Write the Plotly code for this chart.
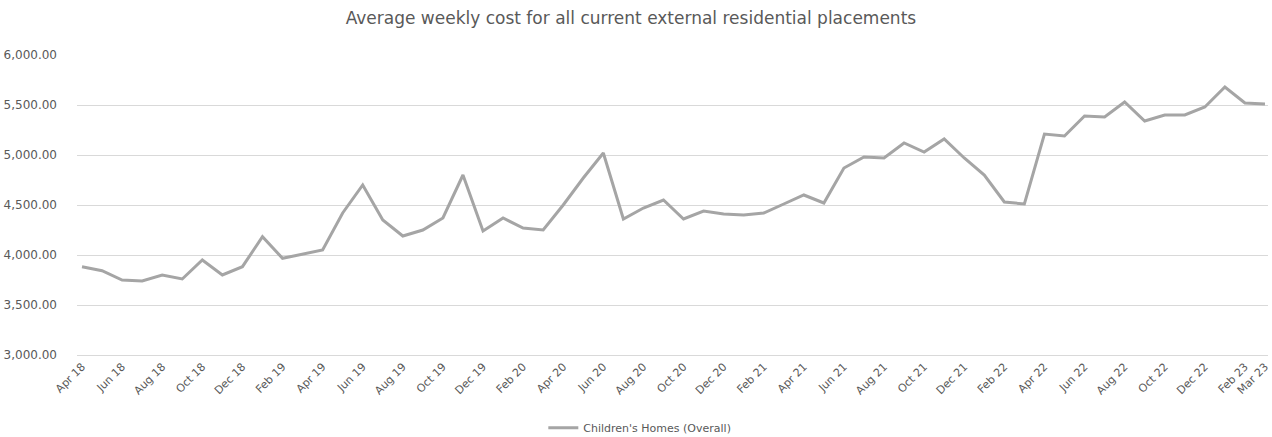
import plotly.graph_objects as go

months = ["Apr 18","May 18","Jun 18","Jul 18","Aug 18","Sep 18","Oct 18","Nov 18","Dec 18","Jan 19","Feb 19","Mar 19",
          "Apr 19","May 19","Jun 19","Jul 19","Aug 19","Sep 19","Oct 19","Nov 19","Dec 19","Jan 20","Feb 20","Mar 20",
          "Apr 20","May 20","Jun 20","Jul 20","Aug 20","Sep 20","Oct 20","Nov 20","Dec 20","Jan 21","Feb 21","Mar 21",
          "Apr 21","May 21","Jun 21","Jul 21","Aug 21","Sep 21","Oct 21","Nov 21","Dec 21","Jan 22","Feb 22","Mar 22",
          "Apr 22","May 22","Jun 22","Jul 22","Aug 22","Sep 22","Oct 22","Nov 22","Dec 22","Jan 23","Feb 23","Mar 23"]

avg_cost = [3883, 3843, 3750, 3740, 3800, 3760, 3950, 3800, 3883, 4183, 3967, 4010,
            4050, 4420, 4700, 4350, 4190, 4250, 4370, 4800, 4240, 4370, 4270, 4250,
            4500, 4770, 5020, 4360, 4470, 4550, 4360, 4440, 4410, 4400, 4420, 4510,
            4600, 4520, 4870, 4980, 4970, 5120, 5030, 5160, 4970, 4800, 4530, 4510,
            5210, 5190, 5390, 5380, 5530, 5340, 5400, 5400, 5480, 5680, 5520, 5510]

tick_labels = months[0::2] + ["Mar 23"]

y_ticks = [3000, 3500, 4000, 4500, 5000, 5500, 6000]

series_name = "Children's Homes (Overall)"
title = "Average weekly cost for all current external residential placements"

FONT = "DejaVu Sans, Liberation Sans, sans-serif"
TXT = "#595959"

fig = go.Figure()
fig.add_trace(go.Scatter(
    x=list(range(len(months))), y=avg_cost, mode="lines", name=series_name,
    line=dict(color="#a5a5a5", width=3),
))

fig.update_layout(
    width=1272, height=437,
    margin=dict(l=77, r=4, t=55, b=82),
    paper_bgcolor="white", plot_bgcolor="white",
    font=dict(family=FONT, color=TXT, size=11),
    title=dict(text=title, x=0.496, xanchor="center", y=0.958, yanchor="middle",
               font=dict(size=17, color=TXT, family=FONT)),
    showlegend=True,
    legend=dict(orientation="h", xref="container", x=0.503, xanchor="center",
                yref="container", y=0.021, yanchor="middle",
                font=dict(size=11, color=TXT)),
    xaxis=dict(
        range=[-0.25, len(months) - 0.85],
        tickmode="array",
        tickvals=[months.index(m) for m in tick_labels],
        ticktext=tick_labels,
        tickangle=-45,
        showgrid=False, zeroline=False,
        showline=True, linecolor="#d9d9d9", linewidth=1,
        ticks="", tickfont=dict(size=11, color=TXT),
        automargin=False,
    ),
    yaxis=dict(
        range=[3000, 6000],
        tickvals=y_ticks,
        tickformat=",.2f",
        showgrid=True, gridcolor="#d9d9d9", gridwidth=1,
        zeroline=False, showline=False, ticks="",
        tickfont=dict(size=12, color=TXT),
        automargin=False,
        ticklabelstandoff=19,
    ),
)

fig.write_html("out.html")
